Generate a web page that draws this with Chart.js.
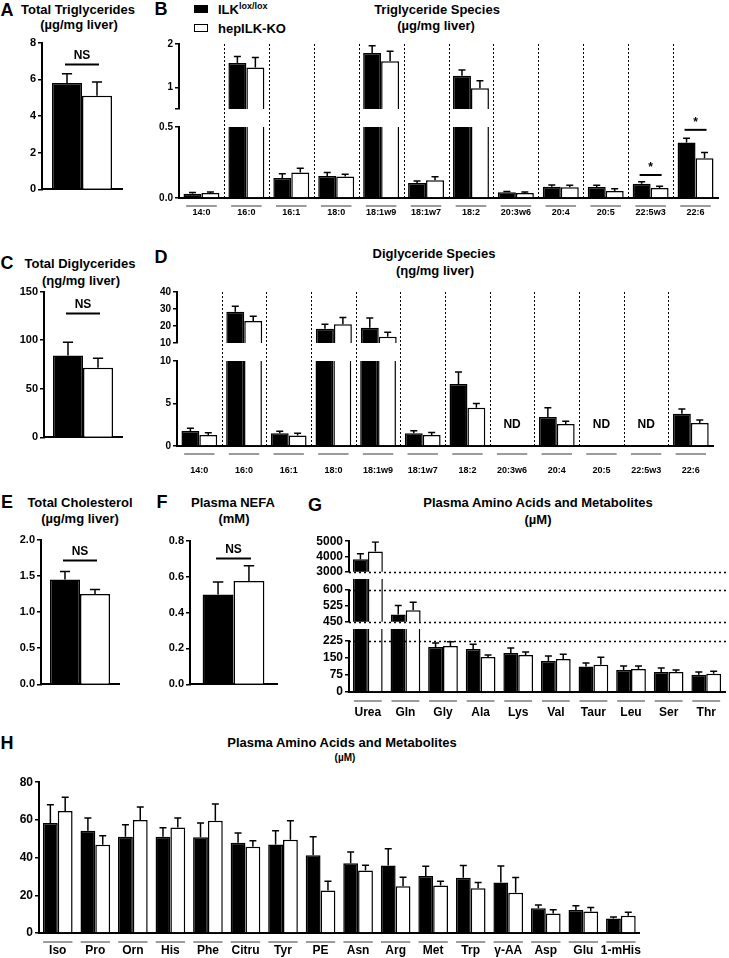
<!DOCTYPE html>
<html><head><meta charset="utf-8">
<script src="https://cdn.jsdelivr.net/npm/chart.js@4.4.1/dist/chart.umd.min.js"></script>
<style>
html,body{margin:0;padding:0;background:#fff}
body{width:729px;height:958px;position:relative;overflow:hidden;font-family:'Liberation Sans',Arial,Helvetica,sans-serif}
canvas{position:absolute}
.t{position:absolute;transform:translate(-50%,-50%);font-weight:bold;font-size:13px;white-space:nowrap;line-height:1;color:#000}
.L{font-size:18px}
.s{font-size:10px}
.lg{position:absolute;font-weight:bold;font-size:13px;line-height:1;white-space:nowrap;transform:translateY(-50%)}
.lg sup{font-size:9px;vertical-align:5px}
.sw{position:absolute;box-sizing:border-box;border:1.5px solid #000;width:14px;height:8px}
</style></head><body>
<div class="t L" style="left:7px;top:10px">A</div>
<div class="t" style="left:78px;top:9px">Total Triglycerides</div>
<div class="t" style="left:79px;top:24px">(µg/mg liver)</div>
<div class="t L" style="left:161px;top:9px">B</div>
<div class="t" style="left:437px;top:9px">Triglyceride Species</div>
<div class="t" style="left:436px;top:25px">(µg/mg liver)</div>
<div class="sw" style="left:194px;top:5px;background:#000"></div>
<div class="lg" style="left:218px;top:9px">ILK<sup>lox/lox</sup></div>
<div class="sw" style="left:194px;top:24px;background:#fff"></div>
<div class="lg" style="left:218px;top:28px">hepILK-KO</div>
<div class="t L" style="left:7px;top:263px">C</div>
<div class="t" style="left:80px;top:263px">Total Diglycerides</div>
<div class="t" style="left:81px;top:280px">(ηg/mg liver)</div>
<div class="t L" style="left:161px;top:257px">D</div>
<div class="t" style="left:434px;top:253px">Diglyceride Species</div>
<div class="t" style="left:435px;top:270px">(ηg/mg liver)</div>
<div class="t L" style="left:7px;top:502px">E</div>
<div class="t" style="left:80px;top:502px">Total Cholesterol</div>
<div class="t" style="left:80px;top:518px">(µg/mg liver)</div>
<div class="t L" style="left:162px;top:502px">F</div>
<div class="t" style="left:233px;top:502px">Plasma NEFA</div>
<div class="t" style="left:234px;top:518px">(mM)</div>
<div class="t L" style="left:315px;top:505px">G</div>
<div class="t" style="left:538px;top:502px">Plasma Amino Acids and Metabolites</div>
<div class="t" style="left:538px;top:519px">(µM)</div>
<div class="t L" style="left:7px;top:743px">H</div>
<div class="t" style="left:342px;top:742px">Plasma Amino Acids and Metabolites</div>
<div class="t s" style="left:345px;top:758px">(µM)</div>
<script>
// ---------- DATA ----------
// Totals: A (TG), C (DG), E (cholesterol), F (NEFA)
const totalNames = ['Total Triglycerides', 'Total Diglycerides', 'Total Cholesterol', 'Plasma NEFA'];
const totalLox = [5.8, 84.3, 1.45, 0.50];
const totalLoxSem = [0.5, 13.7, 0.11, 0.07];
const totalKo = [5.1, 71.6, 1.25, 0.575];
const totalKoSem = [0.75, 9.8, 0.06, 0.085];

// B / D fatty acid species
const fattyAcids = ['14:0','16:0','16:1','18:0','18:1w9','18:1w7','18:2','20:3w6','20:4','20:5','22:5w3','22:6'];
const tgLox = [0.03, 1.56, 0.14, 0.155, 1.79, 0.105, 1.27, 0.04, 0.08, 0.077, 0.10, 0.39];
const tgLoxSem = [0.008, 0.15, 0.03, 0.025, 0.17, 0.015, 0.13, 0.006, 0.012, 0.013, 0.015, 0.03];
const tgKo = [0.035, 1.46, 0.18, 0.152, 1.60, 0.125, 0.98, 0.035, 0.075, 0.05, 0.07, 0.28];
const tgKoSem = [0.008, 0.23, 0.03, 0.015, 0.23, 0.025, 0.17, 0.008, 0.015, 0.015, 0.012, 0.04];

const dgLox = [1.76, 28.4, 1.5, 18.4, 19.0, 1.5, 7.3, null, 3.4, null, null, 3.8];
const dgLoxSem = [0.34, 3.2, 0.25, 2.6, 5.7, 0.3, 1.4, null, 1.1, null, null, 0.55];
const dgKo = [1.3, 23.0, 1.25, 21.0, 13.7, 1.3, 4.5, null, 2.6, null, null, 2.7];
const dgKoSem = [0.25, 2.8, 0.25, 4.0, 2.6, 0.3, 0.5, null, 0.3, null, null, 0.36];

// G
const aaG = ['Urea','Gln','Gly','Ala','Lys','Val','Taur','Leu','Ser','Thr'];
const aaGLox = [3820, 485, 198, 190, 172, 137, 113, 97, 88, 76];
const aaGLoxSem = [360, 42, 18, 21, 22, 22, 15, 18, 18, 12];
const aaGKo = [4330, 504, 203, 154, 163, 146, 120, 101, 88, 81];
const aaGKoSem = [620, 38, 19, 9, 13, 21, 33, 14, 9, 11];

// H
const aaH = ['Iso','Pro','Orn','His','Phe','Citru','Tyr','PE','Asn','Arg','Met','Trp','γ-AA','Asp','Glu','1-mHis'];
const aaHLox = [58.4, 54.2, 51, 51, 50.8, 47.9, 47, 41.2, 37, 35.8, 30.3, 29.3, 26.8, 13.1, 12.2, 7.7];
const aaHLoxSem = [9.6, 6.8, 6.4, 4.8, 7.6, 5.1, 7.2, 9.8, 6, 8.9, 5.1, 6.5, 8.8, 1.8, 2.3, 0.8];
const aaHKo = [64.7, 46.8, 60, 56, 59.5, 45.8, 49.5, 22.6, 33.2, 24.8, 25.2, 23.7, 21.4, 10.4, 11.4, 9.1];
const aaHKoSem = [7.3, 4.8, 6.8, 5, 8.9, 3.2, 10, 4.9, 2.8, 4.8, 2.3, 3.1, 8.1, 1.9, 2.1, 1.9];

// ---------- PLUGINS ----------
const fam = "'Liberation Sans', Arial, Helvetica, sans-serif";
Chart.register({
  id: 'errb',
  afterDatasetsDraw(ch) {
    const ctx = ch.ctx, a = ch.chartArea, ys = ch.scales.y;
    ctx.save();
    ctx.beginPath(); ctx.rect(a.left, a.top, a.right - a.left, a.bottom - a.top); ctx.clip();
    ctx.strokeStyle = '#000'; ctx.lineWidth = 1.5;
    ch.data.datasets.forEach((d, i) => {
      if (!d.errors) return;
      ch.getDatasetMeta(i).data.forEach((b, j) => {
        const v = d.data[j], e = d.errors[j];
        if (v == null || e == null) return;
        const y0 = ys.getPixelForValue(v), y1 = ys.getPixelForValue(v + e);
        const hw = Math.max(3.5, b.width * 0.17);
        ctx.beginPath();
        ctx.moveTo(b.x, y0); ctx.lineTo(b.x, y1);
        ctx.moveTo(b.x - hw, y1); ctx.lineTo(b.x + hw, y1);
        ctx.stroke();
      });
    });
    ctx.restore();
  }
});
Chart.register({
  id: 'sig',
  afterDatasetsDraw(ch, args, o) {
    if (!o.items || !o.items.length) return;
    const ctx = ch.ctx, ys = ch.scales.y, m0 = ch.getDatasetMeta(0), m1 = ch.getDatasetMeta(1);
    o.items.forEach(it => {
      const x0 = m0.data[it.i].x, x1 = m1.data[it.i].x, py = ys.getPixelForValue(it.v);
      ctx.save();
      ctx.strokeStyle = '#000'; ctx.lineWidth = 2;
      ctx.beginPath(); ctx.moveTo(x0 - 2, py); ctx.lineTo(x1 + 2, py); ctx.stroke();
      ctx.font = 'bold ' + (it.size || 12) + 'px ' + fam;
      ctx.textAlign = 'center'; ctx.textBaseline = 'bottom'; ctx.fillStyle = '#000';
      ctx.fillText(it.text, (x0 + x1) / 2, py - (it.gap || 3));
      ctx.restore();
    });
  }
});
Chart.register({
  id: 'sep',
  afterDatasetsDraw(ch, args, o) {
    if (o.ext == null || o.ext < 0) return;
    const ctx = ch.ctx, a = ch.chartArea, xs = ch.scales.x, n = ch.data.labels.length;
    ctx.save(); ctx.strokeStyle = '#000'; ctx.lineWidth = 1; ctx.setLineDash([2, 2]);
    for (let i = 0; i < n - 1; i++) {
      const x = Math.round((xs.getPixelForValue(i) + xs.getPixelForValue(i + 1)) / 2) + 0.5;
      ctx.beginPath(); ctx.moveTo(x, a.top - o.ext); ctx.lineTo(x, a.bottom); ctx.stroke();
    }
    ctx.restore();
  }
});
Chart.register({
  id: 'ul',
  afterDatasetsDraw(ch, args, o) {
    if (!o.on) return;
    const ctx = ch.ctx, a = ch.chartArea, xs = ch.scales.x, n = ch.data.labels.length;
    const step = xs.getPixelForValue(1) - xs.getPixelForValue(0);
    ctx.save(); ctx.strokeStyle = '#7a7a7a'; ctx.lineWidth = 1.5;
    for (let i = 0; i < n; i++) {
      const cx = xs.getPixelForValue(i), hw = step * o.frac / 2, y = a.bottom + o.off;
      ctx.beginPath(); ctx.moveTo(cx - hw, y); ctx.lineTo(cx + hw, y); ctx.stroke();
    }
    ctx.restore();
  }
});
Chart.register({
  id: 'nd',
  afterDatasetsDraw(ch, args, o) {
    if (o.v == null) return;
    const ctx = ch.ctx, xs = ch.scales.x, ys = ch.scales.y, d = ch.data.datasets[0].data;
    ctx.save(); ctx.font = 'bold 12px ' + fam; ctx.textAlign = 'center'; ctx.textBaseline = 'middle'; ctx.fillStyle = '#000';
    d.forEach((v, i) => { if (v == null) ctx.fillText('ND', xs.getPixelForValue(i), ys.getPixelForValue(o.v)); });
    ctx.restore();
  }
});
Chart.register({
  id: 'hd',
  afterDatasetsDraw(ch, args, o) {
    if (!o.at || !o.at.length) return;
    const ctx = ch.ctx, a = ch.chartArea, ys = ch.scales.y;
    ctx.save(); ctx.strokeStyle = '#000'; ctx.lineWidth = 1.3; ctx.setLineDash([2, 3]);
    o.at.forEach(k => {
      const y = Math.round(ys.getPixelForValue(k === 'min' ? ys.min : ys.max)) + 0.5;
      ctx.beginPath(); ctx.moveTo(a.left, y); ctx.lineTo(ch.width, y); ctx.stroke();
    });
    ctx.restore();
  }
});

// ---------- BUILDER ----------
function mk(c) {
  const yW = c.yW || 40, pt = c.padTop != null ? c.padTop : 8, pr = c.padRight != null ? c.padRight : 4, xH = c.xH || 2;
  const a = c.area, w = yW + (a.r - a.l) + pr, h = pt + (a.b - a.t) + xH;
  const cv = document.createElement('canvas');
  cv.width = w; cv.height = h;
  Object.assign(cv.style, {left: (a.l - yW) + 'px', top: (a.t - pt) + 'px', width: w + 'px', height: h + 'px'});
  document.body.appendChild(cv);
  const clip = {left: 0, right: 0, bottom: 0, top: c.clipTop || 0};
  const datasets = c.series.map(s => ({
    data: s.data, errors: s.err, backgroundColor: s.fill, borderColor: '#000', borderWidth: 1.5,
    clip: clip, categoryPercentage: c.catPct, barPercentage: 1
  }));
  return new Chart(cv, {
    type: 'bar',
    data: {labels: c.labels, datasets},
    options: {
      responsive: false, maintainAspectRatio: false, animation: false, devicePixelRatio: 1, events: [],
      layout: {autoPadding: false, padding: {top: pt, right: pr, left: 0, bottom: 0}},
      plugins: {
        legend: {display: false}, tooltip: {enabled: false},
        sig: {items: c.sig || []}, sep: {ext: c.sepExt != null ? c.sepExt : -1},
        ul: {on: !!c.xLabels, off: c.ulOff || 8, frac: c.ulFrac || 0.72},
        nd: {v: c.nd != null ? c.nd : null}, hd: {at: c.hd || []}
      },
      scales: {
        x: {
          offset: true, grid: {display: false, drawTicks: false, tickLength: 0},
          border: {display: c.xLine !== false, color: '#000', width: 2},
          ticks: {display: !!c.xLabels, padding: c.xPad || 8, font: {family: fam, size: c.xSize || 12, weight: 'bold'}, color: '#000', maxRotation: 0, minRotation: 0, autoSkip: false},
          afterFit(s) { s.height = xH; }
        },
        y: {
          min: c.y.min, max: c.y.max,
          afterBuildTicks(s) { s.ticks = c.y.ticks.map(v => ({value: v})); },
          ticks: {callback: c.y.fmt, font: {family: fam, size: c.tickSize || 11, weight: 'bold'}, color: '#000', padding: 2, autoSkip: false},
          grid: {drawOnChartArea: false, drawTicks: true, tickLength: 4, color: '#000', lineWidth: 1.5},
          border: {color: '#000', width: 2},
          afterFit(s) { s.width = yW; }
        }
      }
    }
  });
}
const intFmt = v => String(v);
const dec1 = v => Number(v).toFixed(1);
function pair(i) {
  return [{data: [totalLox[i]], err: [totalLoxSem[i]], fill: '#000'}, {data: [totalKo[i]], err: [totalKoSem[i]], fill: '#fff'}];
}
function two(l, ls, k, ks) {
  return [{data: l, err: ls, fill: '#000'}, {data: k, err: ks, fill: '#fff'}];
}

// A
mk({area: {l: 42, t: 42, r: 122, b: 196}, yW: 40, labels: [totalNames[0]], series: pair(0), catPct: 0.75,
  y: {min: 0, max: 8, ticks: [0, 2, 4, 6, 8], fmt: intFmt}, sig: [{i: 0, v: 6.8, text: 'NS'}]});
// C
mk({area: {l: 44, t: 291, r: 122, b: 444}, yW: 44, labels: [totalNames[1]], series: pair(1), catPct: 0.77,
  y: {min: 0, max: 150, ticks: [0, 50, 100, 150], fmt: intFmt}, sig: [{i: 0, v: 127.5, text: 'NS'}]});
// E
mk({area: {l: 41, t: 539, r: 119, b: 691}, yW: 41, labels: [totalNames[2]], series: pair(2), catPct: 0.77,
  y: {min: 0, max: 2, ticks: [0, 0.5, 1, 1.5, 2], fmt: dec1}, sig: [{i: 0, v: 1.71, text: 'NS'}]});
// F
mk({area: {l: 190, t: 540, r: 277, b: 691}, yW: 40, labels: [totalNames[3]], series: pair(3), catPct: 0.71,
  y: {min: 0, max: 0.8, ticks: [0, 0.2, 0.4, 0.6, 0.8], fmt: dec1}, sig: [{i: 0, v: 0.70, text: 'NS'}]});

// B upper / lower
const tgSeries = two(tgLox, tgLoxSem, tgKo, tgKoSem);
mk({area: {l: 179, t: 44, r: 718, b: 115}, labels: fattyAcids, series: tgSeries, catPct: 0.8, xLine: false, tickSize: 10,
  y: {min: 0.5, max: 2, ticks: [0.5, 1, 2], fmt: v => (v === 0.5 ? '' : String(v))}});
mk({area: {l: 179, t: 127, r: 718, b: 198}, padTop: 87, xH: 24, xLabels: true, xSize: 9, xPad: 9, ulOff: 8, ulFrac: 0.68,
  labels: fattyAcids, series: tgSeries, catPct: 0.8, tickSize: 10, sepExt: 83,
  y: {min: 0, max: 0.5, ticks: [0, 0.5], fmt: dec1},
  sig: [{i: 10, v: 0.162, text: '*', gap: 1}, {i: 11, v: 0.48, text: '*', gap: 1}]});

// D upper / lower
const dgSeries = two(dgLox, dgLoxSem, dgKo, dgKoSem);
mk({area: {l: 177, t: 292, r: 715, b: 349}, yW: 38, labels: fattyAcids, series: dgSeries, catPct: 0.8, xLine: false, tickSize: 10,
  y: {min: 10, max: 40, ticks: [10, 20, 30, 40], fmt: intFmt}});
mk({area: {l: 177, t: 361, r: 715, b: 446}, yW: 38, padTop: 75, xH: 34, xLabels: true, xSize: 9, xPad: 19, ulOff: 8, ulFrac: 0.68,
  labels: fattyAcids, series: dgSeries, catPct: 0.8, tickSize: 10, sepExt: 69, nd: 2.5,
  y: {min: 0, max: 10, ticks: [0, 5, 10], fmt: intFmt}});

// G three segments
const gSeries = two(aaGLox, aaGLoxSem, aaGKo, aaGKoSem);
mk({area: {l: 349, t: 540, r: 727, b: 579}, yW: 40, padRight: 2, labels: aaG, series: gSeries, catPct: 0.79, xLine: false, tickSize: 12,
  y: {min: 3000, max: 5000, ticks: [3000, 4000, 5000], fmt: intFmt}, hd: ['min']});
mk({area: {l: 349, t: 590, r: 727, b: 629}, yW: 40, padRight: 2, padTop: 14, clipTop: 11, labels: aaG, series: gSeries, catPct: 0.79, xLine: false, tickSize: 12,
  y: {min: 450, max: 600, ticks: [450, 525, 600], fmt: intFmt}, hd: ['min', 'max']});
mk({area: {l: 349, t: 641, r: 727, b: 692}, yW: 40, padRight: 2, padTop: 14, clipTop: 12, xH: 32, xLabels: true, xSize: 12, xPad: 13, ulOff: 9, ulFrac: 0.74, tickSize: 12,
  labels: aaG, series: gSeries, catPct: 0.79,
  y: {min: 0, max: 225, ticks: [0, 75, 150, 225], fmt: intFmt}, hd: ['max']});

// H
mk({area: {l: 39, t: 781, r: 647, b: 933}, yW: 39, xH: 25, xLabels: true, xSize: 12, xPad: 10, ulOff: 9, ulFrac: 0.78, tickSize: 12,
  labels: aaH, series: two(aaHLox, aaHLoxSem, aaHKo, aaHKoSem), catPct: 0.79,
  y: {min: 0, max: 80, ticks: [0, 20, 40, 60, 80], fmt: intFmt}});
</script>
</body></html>
